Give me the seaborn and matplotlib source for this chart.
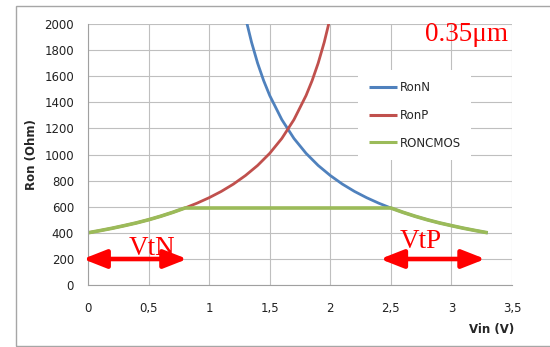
import numpy as np
import pandas as pd
import matplotlib
matplotlib.use("Agg")
import matplotlib.pyplot as plt
import seaborn as sns
from matplotlib.patches import Rectangle

# ---- data ----
ronn_v = [1.30, 1.35, 1.40, 1.45, 1.50, 1.60, 1.70, 1.80, 1.90, 2.00, 2.10, 2.20,
          2.30, 2.40, 2.50, 2.60, 2.70, 2.80, 2.90, 3.00, 3.10, 3.20, 3.30]
ronn_r = [2050, 1860, 1700, 1566, 1452, 1267, 1123, 1009, 916, 839, 773, 717,
          669, 627, 590, 557, 527, 500, 476, 455, 435, 417, 400]

ronp_v = [0.00, 0.10, 0.20, 0.30, 0.40, 0.50, 0.60, 0.70, 0.80, 0.90, 1.00, 1.10,
          1.20, 1.30, 1.40, 1.50, 1.60, 1.70, 1.80, 1.85, 1.90, 1.95, 2.00]
ronp_r = [400, 417, 435, 455, 476, 500, 527, 557, 590, 627, 669, 717,
          773, 839, 916, 1009, 1123, 1267, 1452, 1566, 1700, 1860, 2050]

cmos_v = [0.00, 0.10, 0.20, 0.30, 0.40, 0.50, 0.60, 0.70, 0.80, 1.00, 1.50, 2.00,
          2.50, 2.60, 2.70, 2.80, 2.90, 3.00, 3.10, 3.20, 3.30]
cmos_r = [400, 417, 435, 455, 476, 500, 527, 557, 590, 590, 590, 590,
          590, 557, 527, 500, 476, 455, 435, 417, 400]

series_names = ["RonN", "RonP", "RONCMOS"]
series_colors = ["#4F81BD", "#C0504D", "#9BBB59"]
x_ticks = [0, 0.5, 1, 1.5, 2, 2.5, 3, 3.5]
x_tick_labels = ["0", "0,5", "1", "1,5", "2", "2,5", "3", "3,5"]
y_ticks = list(range(0, 2001, 200))

df = pd.concat([
    pd.DataFrame({"Vin": ronn_v, "Ron": ronn_r, "series": "RonN"}),
    pd.DataFrame({"Vin": ronp_v, "Ron": ronp_r, "series": "RonP"}),
    pd.DataFrame({"Vin": cmos_v, "Ron": cmos_r, "series": "RONCMOS"}),
], ignore_index=True)

sns.set_theme(style="white")
plt.rcParams["font.family"] = ["DejaVu Sans"]

fig = plt.figure(figsize=(5.5, 3.47), dpi=100)
fig.patch.set_facecolor("white")
ax = fig.add_axes([88/550, 1-285/347, 424/550, 261/347])

# outer frame
fig.patches.append(Rectangle((16/550, 1-346/347), 560/550, 340/347,
                             transform=fig.transFigure, fill=False,
                             edgecolor="#A6A6A6", lw=1.0, zorder=0))

sns.lineplot(data=df, x="Vin", y="Ron", hue="series", hue_order=series_names,
             palette=series_colors, sort=False, estimator=None, lw=2.0, ax=ax)
for line in ax.get_lines():
    line.set_solid_capstyle("butt")
ax.get_lines()[2].set_linewidth(2.6)

ax.set_xlim(0, 3.5)
ax.set_ylim(0, 2000)
ax.set_xticks(x_ticks)
ax.set_xticklabels(x_tick_labels)
ax.set_yticks(y_ticks)
ax.grid(True, color="#BFBFBF", lw=0.8)
ax.set_axisbelow(True)
for s in ["top", "right"]:
    ax.spines[s].set_visible(False)
for s in ["left", "bottom"]:
    ax.spines[s].set_color("#A0A0A0")
    ax.spines[s].set_linewidth(0.8)
ax.tick_params(axis="both", which="both", direction="out", length=4, width=0.8,
               color="#A0A0A0", labelsize=8.5, labelcolor="#222222")
ax.tick_params(axis="y", pad=6)
ax.tick_params(axis="x", pad=8)

ax.set_ylabel("Ron (Ohm)", fontsize=8.5, fontweight="bold")
ax.yaxis.set_label_coords(-0.118, 0.5)
ax.set_xlabel("Vin (V)", fontsize=8.5, fontweight="bold", loc="right")
ax.xaxis.set_label_coords(1.005, -0.145)

leg = ax.legend(loc="upper left", bbox_to_anchor=(0.637, 0.822), frameon=True,
                facecolor="white", edgecolor="none", framealpha=1,
                fontsize=8.5, handlelength=2.4, handletextpad=0.2,
                labelspacing=1.25, borderaxespad=0, borderpad=0.9)
for h in leg.get_lines():
    h.set_linewidth(2.2)

ax.text(0.795, 0.935, "0.35μm", transform=ax.transAxes, color="red",
        fontsize=19.5, family="Liberation Serif", va="baseline", ha="left")
ax.text(0.15, 0.115, "VtN", transform=ax.transAxes, color="red",
        fontsize=19.5, family="Liberation Serif", va="baseline", ha="center")
ax.text(0.785, 0.142, "VtP", transform=ax.transAxes, color="red",
        fontsize=19.5, family="Liberation Serif", va="baseline", ha="center")

arrow_style = dict(arrowstyle="<|-|>,head_length=1.4,head_width=0.55",
                   color="red", lw=3.3, mutation_scale=10,
                   shrinkA=0, shrinkB=0)
ax.annotate("", xy=(-0.012, 0.0996), xytext=(0.234, 0.0996),
            xycoords="axes fraction", textcoords="axes fraction",
            arrowprops=arrow_style, annotation_clip=False)
ax.annotate("", xy=(0.689, 0.0996), xytext=(0.937, 0.0996),
            xycoords="axes fraction", textcoords="axes fraction",
            arrowprops=arrow_style, annotation_clip=False)

fig.savefig("out.png", dpi=100, facecolor="white")
